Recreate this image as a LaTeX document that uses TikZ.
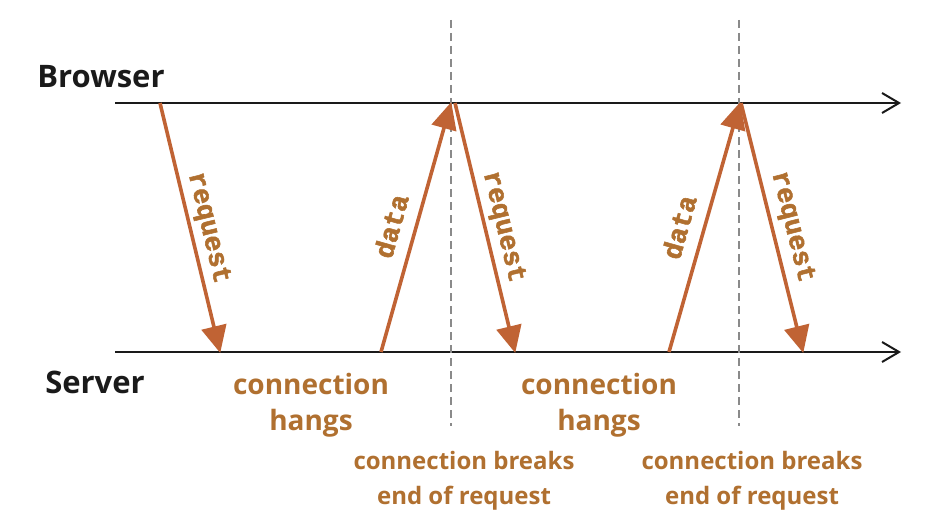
\documentclass[tikz,border=0pt]{standalone}
\usepackage{fontspec}
\setmainfont{Open Sans}
\newfontfamily\monob[FakeBold=2]{Liberation Mono Bold}
\usetikzlibrary{arrows.meta}
\definecolor{arrowc}{HTML}{C06334}
\definecolor{textc}{HTML}{B07030}
\definecolor{axisc}{HTML}{1A1A1A}
\definecolor{dashc}{HTML}{8A8A8A}
\tikzset{
  axis/.style={draw=axisc, line width=2pt, -{Straight Barb[length=17pt,width=20pt,line width=2pt]}},
  msg/.style={draw=arrowc, line width=3.6pt, -{Triangle[length=27pt,width=25pt]}, shorten >=-1pt},
  sep/.style={draw=dashc, line width=1.8pt, dash pattern=on 8pt off 5pt},
  sidelbl/.style={font=\fontsize{31}{32}\selectfont\bfseries, text=axisc},
  msglbl/.style={font=\monob\fontsize{27}{28}\selectfont, text=textc, inner sep=0pt},
  biglbl/.style={font=\fontsize{28}{36}\selectfont\bfseries, text=textc, align=center, inner sep=0pt},
  smalllbl/.style={font=\fontsize{24}{35}\selectfont\bfseries, text=textc, align=center, inner sep=0pt},
}
\begin{document}
\begin{tikzpicture}[x=1pt,y=-1pt]
\useasboundingbox (0,0) rectangle (944,532);
% axes
\coordinate (bs) at (115,103); \coordinate (be) at (901,103);
\coordinate (ss) at (115,352); \coordinate (se) at (901,352);
\draw[axis] (bs) -- (be);
\draw[axis] (ss) -- (se);
% separators
\coordinate (d1t) at (451,20); \coordinate (d1b) at (451,426);
\coordinate (d2t) at (739,20); \coordinate (d2b) at (739,426);
\draw[sep] (d1t) -- (d1b);
\draw[sep] (d2t) -- (d2b);
% side labels
\node[sidelbl] (browser) at (101,77) {Browser};
\node[sidelbl] (server) at (95,382) {Server};
% messages
\coordinate (r1s) at (160,103); \coordinate (r1e) at (220,352);
\coordinate (a1s) at (381,352); \coordinate (a1e) at (451,103);
\coordinate (r2s) at (455,103); \coordinate (r2e) at (515,352);
\coordinate (a2s) at (669,352); \coordinate (a2e) at (740,103);
\coordinate (r3s) at (741,103); \coordinate (r3e) at (803,352);
\draw[msg] (r1s) -- (r1e);
\draw[msg] (a1s) -- (a1e);
\draw[msg] (r2s) -- (r2e);
\draw[msg] (a2s) -- (a2e);
\draw[msg] (r3s) -- (r3e);
\node[msglbl, rotate=-76.5] (l1) at (208,228) {request};
\node[msglbl, rotate=74.3] (l2) at (391,226) {data};
\node[msglbl, rotate=-76.5] (l3) at (503,227) {request};
\node[msglbl, rotate=74.3] (l4) at (679,227) {data};
\node[msglbl, rotate=-76.0] (l5) at (792,227) {request};
% bottom labels
\node[biglbl] (h1) at (311,405) {connection\\hangs};
\node[biglbl] (h2) at (599,405) {connection\\hangs};
\node[smalllbl] (k1) at (464,481) {connection breaks\\end of request};
\node[smalllbl] (k2) at (752,481) {connection breaks\\end of request};
\end{tikzpicture}
\end{document}
